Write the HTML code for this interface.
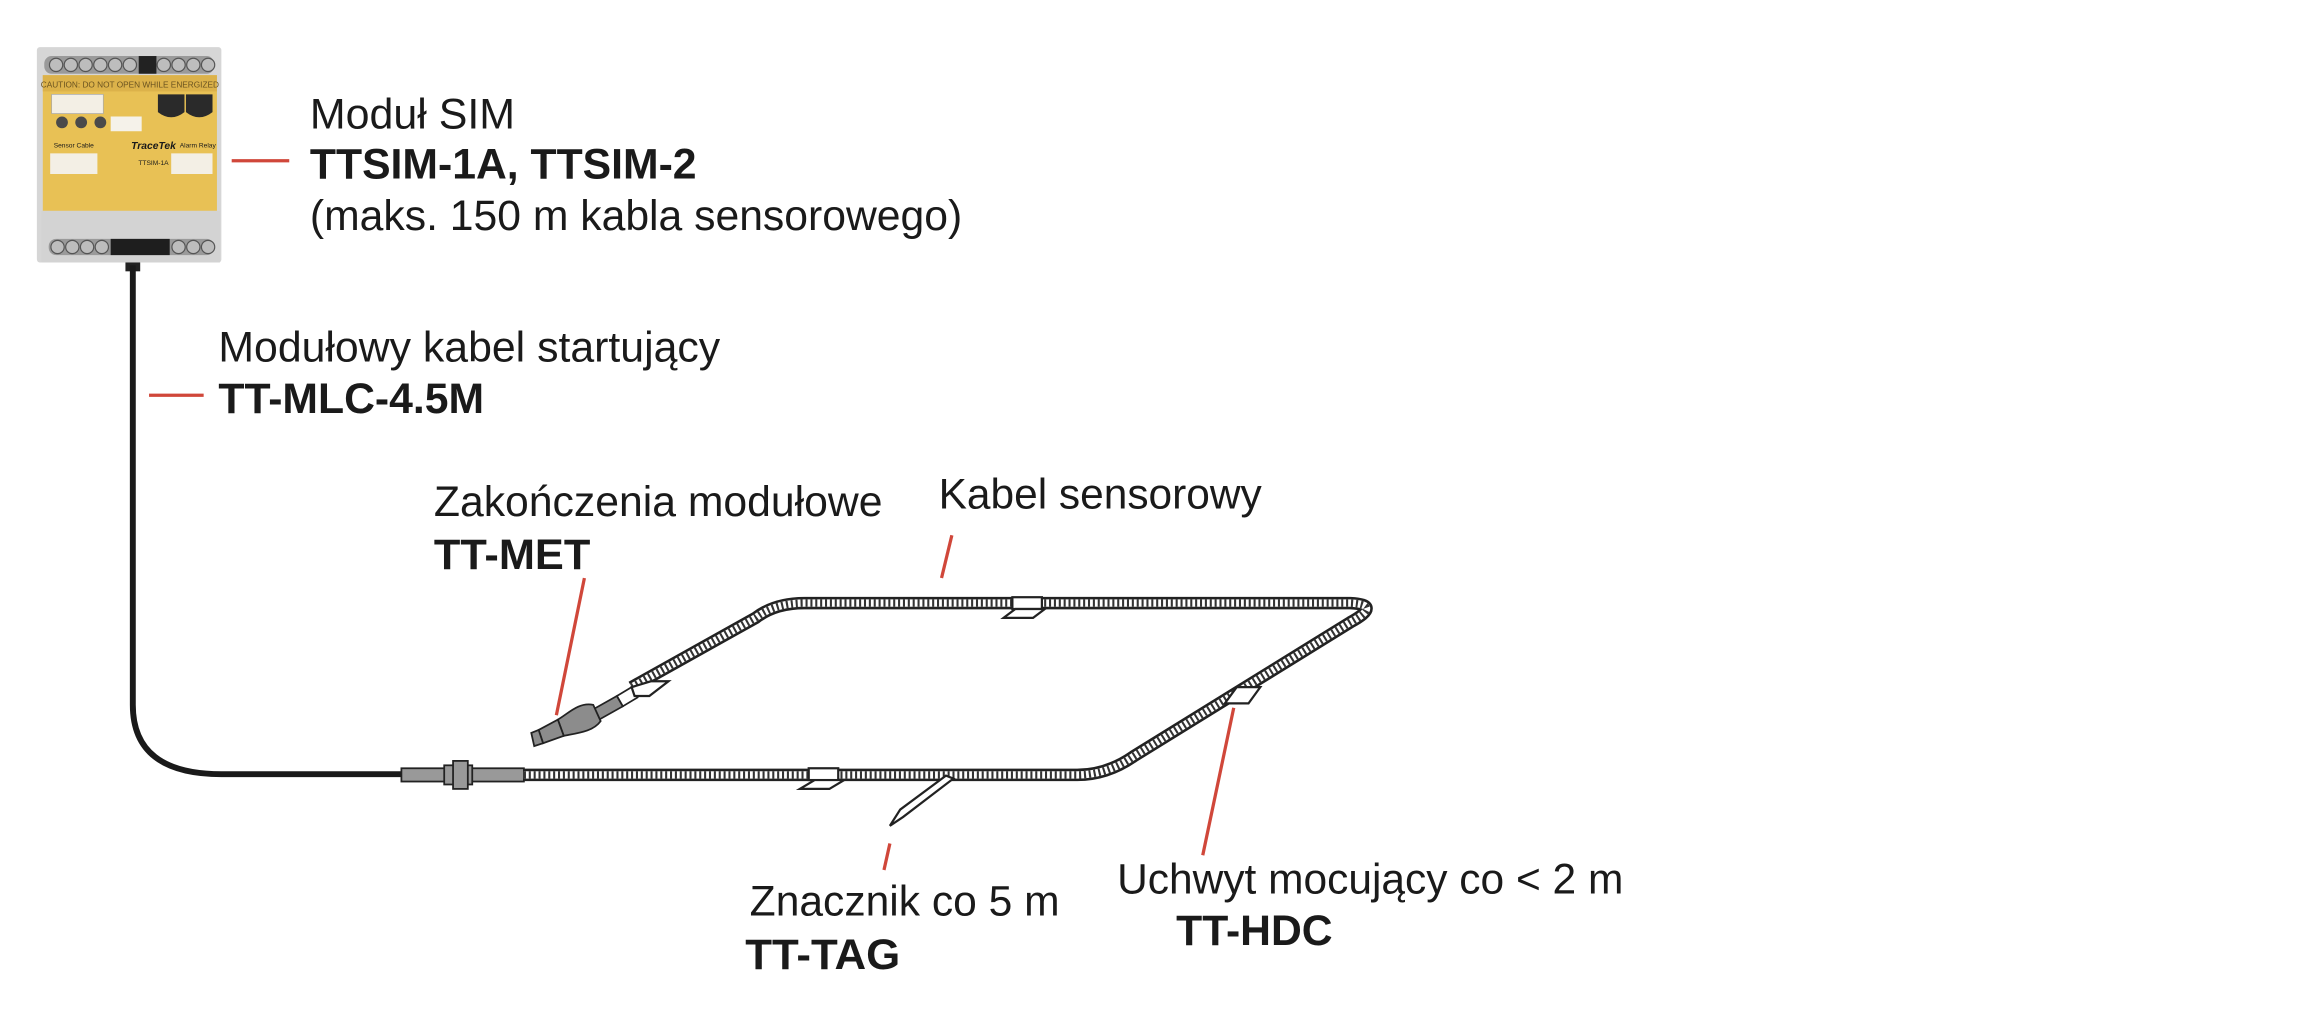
<!DOCTYPE html>
<html><head><meta charset="utf-8"><style>
html,body{margin:0;padding:0;background:#fff;}
svg{display:block;}
text{font-family:"Liberation Sans",Arial,sans-serif;fill:#1a1a1a;}
.b{font-weight:bold;}
</style></head><body>
<svg width="2314" height="1016" viewBox="0 0 1568 689" preserveAspectRatio="none" xmlns="http://www.w3.org/2000/svg">
<!-- SIM module -->
<rect x="25" y="32" width="125" height="146" fill="#d6d6d6" rx="2"/>
<rect x="30" y="38" width="115" height="12" fill="#9a9a9a" rx="5"/>
<g fill="#bdbdbd" stroke="#555" stroke-width="0.8">
<circle cx="38" cy="44" r="4.5"/><circle cx="48" cy="44" r="4.5"/><circle cx="58" cy="44" r="4.5"/><circle cx="68" cy="44" r="4.5"/><circle cx="78" cy="44" r="4.5"/><circle cx="88" cy="44" r="4.5"/>
<circle cx="111" cy="44" r="4.5"/><circle cx="121" cy="44" r="4.5"/><circle cx="131" cy="44" r="4.5"/><circle cx="141" cy="44" r="4.5"/>
</g>
<rect x="94" y="38" width="12" height="12" fill="#222"/>
<rect x="29" y="51" width="118" height="92" fill="#e8c155"/>
<rect x="29" y="51" width="118" height="11" fill="#dcb24a"/>
<text x="88" y="59.5" font-size="5.6" text-anchor="middle" style="fill:#6a5320">CAUTION: DO NOT OPEN WHILE ENERGIZED</text>
<rect x="35" y="64" width="35" height="13" fill="#f3efe5" stroke="#aaa" stroke-width="0.5"/>
<path d="M107 64 h18 v12 q-9 7 -18 0z M126 64 h18 v12 q-9 7 -18 0z" fill="#2a2a2a"/>
<circle cx="42" cy="83" r="4" fill="#4a4a4a"/><circle cx="55" cy="83" r="4" fill="#4a4a4a"/><circle cx="68" cy="83" r="4" fill="#4a4a4a"/>
<rect x="75" y="79" width="21" height="10" fill="#f5f2ea"/>
<text x="104" y="101" font-size="7" font-style="italic" font-weight="bold" text-anchor="middle">TraceTek</text>
<text x="50" y="100" font-size="4.5" text-anchor="middle">Sensor Cable</text>
<text x="134" y="100" font-size="4.5" text-anchor="middle">Alarm Relay</text>
<text x="104" y="112" font-size="4.5" text-anchor="middle">TTSIM-1A</text>
<rect x="34" y="104" width="32" height="14" fill="#f3efe5"/>
<rect x="116" y="104" width="28" height="14" fill="#f3efe5"/>
<rect x="28" y="143" width="121" height="35" fill="#d3d3d3"/>
<rect x="33" y="162" width="112" height="11" fill="#9a9a9a" rx="5"/>
<rect x="75" y="162" width="40" height="11" fill="#1e1e1e"/>
<g fill="#bdbdbd" stroke="#555" stroke-width="0.8">
<circle cx="39" cy="167.5" r="4.5"/><circle cx="49" cy="167.5" r="4.5"/><circle cx="59" cy="167.5" r="4.5"/><circle cx="69" cy="167.5" r="4.5"/>
<circle cx="121" cy="167.5" r="4.5"/><circle cx="131" cy="167.5" r="4.5"/><circle cx="141" cy="167.5" r="4.5"/>
</g>
<rect x="85" y="178" width="10" height="6" fill="#222"/>
<!-- lead cable -->
<path d="M90 180 V478 Q90 525 150 525 H272" fill="none" stroke="#1a1a1a" stroke-width="4"/>
<!-- connector -->
<rect x="272" y="521" width="83" height="9" fill="#999" stroke="#222" stroke-width="1.2"/>
<rect x="301" y="519" width="19" height="13" fill="#999" stroke="#222" stroke-width="1.2"/>
<rect x="307" y="516" width="10" height="19" fill="#999" stroke="#222" stroke-width="1.2"/>
<!-- sensor cable loop -->
<path d="M355,525.5 H730 Q750,525.5 768,513 L915,422 Q937,410 915,409 H545 Q525,409 512,419 L428,466" fill="none" stroke="#222" stroke-width="8.5" stroke-linejoin="round"/>
<path d="M355,525.5 H730 Q750,525.5 768,513 L915,422 Q937,410 915,409 H545 Q525,409 512,419 L428,466" fill="none" stroke="#fff" stroke-width="5"/>
<path d="M355,525.5 H730 Q750,525.5 768,513 L915,422 Q937,410 915,409 H545 Q525,409 512,419 L428,466" fill="none" stroke="#333" stroke-width="5" stroke-dasharray="1.4 1.9"/>
<!-- MET end -->
<g stroke="#222" stroke-width="1.2" fill="#8c8c8c">
<path d="M428,466 L418,472 L422,479 L432,473z" fill="#fff"/>
<path d="M418,472 L402,481 L406,488 L422,479z"/>
<path d="M402,478 C392,476 385,484 378,488 L382,499 C392,497 402,496 407,489z"/>
<path d="M378,488 L365,495 L368,504 L382,499z"/>
<path d="M365,495 L360,497 L362,506 L368,504z"/>
</g>
<!-- clips -->
<g fill="#fff" stroke="#222" stroke-width="1.5">
<rect x="686" y="405" width="20" height="8"/>
<path d="M688,413 L708,413 L700,419 L680,419z"/>
<rect x="548" y="521" width="20" height="8"/>
<path d="M552,529 L572,529 L562,535 L542,535z"/>
<path d="M838,466 L830,477 L846,477 L854,466z"/>
<path d="M428,466 L441,462 L453,462 L440,472 L430,472z"/>
</g>
<!-- tag -->
<path d="M641,526 L610,549 L603,560 L612,554 L646,528z" fill="#fff" stroke="#222" stroke-width="1.5"/>
<!-- red leaders -->
<g stroke="#d0473a" stroke-width="2.2" fill="none">
<line x1="157" y1="109" x2="196" y2="109"/>
<line x1="101" y1="268" x2="138" y2="268"/>
<line x1="396" y1="392" x2="377" y2="485"/>
<line x1="645" y1="363" x2="638" y2="392"/>
<line x1="603" y1="572" x2="599" y2="590"/>
<line x1="836" y1="480" x2="815" y2="580"/>
</g>
<!-- labels -->
<g font-size="29" lengthAdjust="spacingAndGlyphs">
<text x="210" y="87" textLength="139" lengthAdjust="spacingAndGlyphs">Moduł SIM</text>
<text x="210" y="121" class="b" textLength="262" lengthAdjust="spacingAndGlyphs">TTSIM-1A, TTSIM-2</text>
<text x="210" y="156" textLength="442" lengthAdjust="spacingAndGlyphs">(maks. 150 m kabla sensorowego)</text>
<text x="148" y="245" textLength="340" lengthAdjust="spacingAndGlyphs">Modułowy kabel startujący</text>
<text x="148" y="280" class="b" textLength="180" lengthAdjust="spacingAndGlyphs">TT-MLC-4.5M</text>
<text x="294" y="350" textLength="304" lengthAdjust="spacingAndGlyphs">Zakończenia modułowe</text>
<text x="294" y="386" class="b" textLength="106" lengthAdjust="spacingAndGlyphs">TT-MET</text>
<text x="636" y="345" textLength="219" lengthAdjust="spacingAndGlyphs">Kabel sensorowy</text>
<text x="508" y="621" textLength="210" lengthAdjust="spacingAndGlyphs">Znacznik co 5 m</text>
<text x="505" y="657" class="b" textLength="105" lengthAdjust="spacingAndGlyphs">TT-TAG</text>
<text x="757" y="606" textLength="343" lengthAdjust="spacingAndGlyphs">Uchwyt mocujący co &lt; 2 m</text>
<text x="797" y="641" class="b" textLength="106" lengthAdjust="spacingAndGlyphs">TT-HDC</text>
</g>
</svg>
</body></html>
